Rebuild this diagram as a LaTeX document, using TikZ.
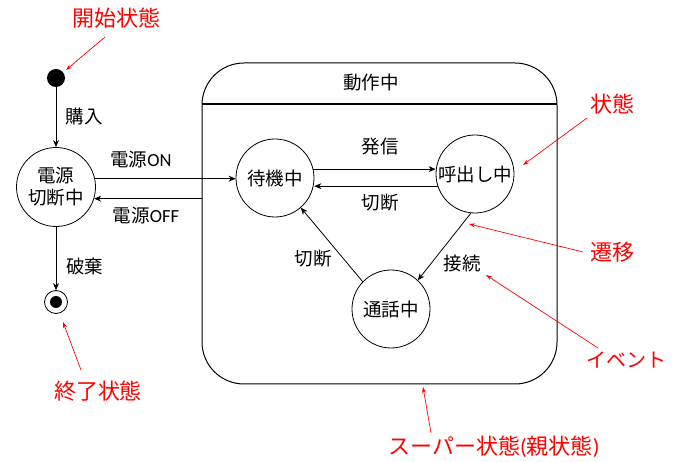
\documentclass[tikz,border=0pt]{standalone}
\usepackage{fontspec}
\setmainfont{Noto Sans CJK JP}
\newfontfamily\lat{Carlito}
\usetikzlibrary{arrows.meta,calc}
\begin{document}
\begin{tikzpicture}[x=1pt,y=-1pt,
 st/.style={circle,draw,line width=0.8pt,minimum size=78pt,inner sep=0pt,font=\fontsize{18.5}{22}\selectfont,align=center},
 lbl/.style={font=\fontsize{18.5}{20}\selectfont,inner sep=1pt},
 ann/.style={font=\fontsize{22}{24}\selectfont,text=red,inner sep=1pt},
 tr/.style={draw,line width=0.8pt,-{Stealth[length=7pt,width=6pt]}},
 rt/.style={draw=red,line width=0.7pt,-{Stealth[length=6pt,width=4pt]}}]
\useasboundingbox (0,0) rectangle (673,462);
% superstate
\node[draw,line width=1pt,rounded corners=42pt,minimum width=355pt,minimum height=321pt,inner sep=0pt] (sup) at (379.5,223.5) {};
\coordinate (hl) at (202,104);
\coordinate (hr) at (557,104);
\draw[line width=1.2pt] (hl) -- (hr);
\node[lbl] (dosa) at (371,83) {動作中};
% states
\node[fill,circle,minimum size=18pt,inner sep=0pt] (start) at (56,78) {};
\node[st,minimum size=79pt] (pw) at (56,187) {電源\\切断中};
\node[circle,draw,line width=0.8pt,minimum size=23pt,inner sep=0pt] (end) at (56,302) {};
\fill (end.center) circle (6pt);
\node[st] (wait) at (275,178) {待機中};
\node[st] (call) at (475,174) {呼出し中};
\node[st] (talk) at (391,309) {通話中};
% transitions
\draw[tr] (start) -- (pw.north);
\node[lbl] (l1) at (84,116) {購入};
\draw[tr] (pw.12) -- (pw.12 -| wait.west);
\node[lbl] (l2) at (141,160) {電源{\lat ON}};
\draw[tr] (pw.-17 -| sup.west) -- (pw.-17);
\node[lbl] (l3) at (146,216) {電源{\lat OFF}};
\draw[tr] (pw.south) -- (end.north);
\node[lbl] (l4) at (85,266) {破棄};
\draw[tr] (wait.13) -- (wait.13 -| call.west);
\node[lbl] (l5) at (380,147) {発信};
\draw[tr] (call.-162) -- (call.-162 -| wait.east);
\node[lbl] (l6) at (380,203) {切断};
\draw[tr] (call.-96) -- (talk.47);
\node[lbl] (l7) at (462,263) {接続};
\draw[tr] (talk.136) -- (wait.-49);
\node[lbl] (l8) at (313,259) {切断};
% annotations
\node[ann] (a1) at (116,18) {開始状態};
\coordinate (a1s) at (105,37);
\coordinate (a1t) at (66,70);
\draw[rt] (a1s) -- (a1t);
\node[ann] (a2) at (612,104) {状態};
\coordinate (a2s) at (587,118);
\coordinate (a2t) at (523,165);
\draw[rt] (a2s) -- (a2t);
\node[ann] (a3) at (612,252) {遷移};
\coordinate (a3s) at (583,252);
\coordinate (a3t) at (469,224);
\draw[rt] (a3s) -- (a3t);
\node[ann,anchor=east,font=\fontsize{20}{22}\selectfont] (a4) at (668,360) {イベント};
\coordinate (a4s) at (598,348);
\coordinate (a4t) at (486,275);
\draw[rt] (a4s) -- (a4t);
\node[ann] (a5) at (98,391) {終了状態};
\coordinate (a5s) at (81,370);
\coordinate (a5t) at (63,322);
\draw[rt] (a5s) -- (a5t);
\node[ann] (a6) at (494,447) {スーパー状態{\lat (}親状態{\lat )}};
\coordinate (a6s) at (431,433);
\coordinate (a6t) at (423,387);
\draw[rt] (a6s) -- (a6t);
\end{tikzpicture}
\end{document}
